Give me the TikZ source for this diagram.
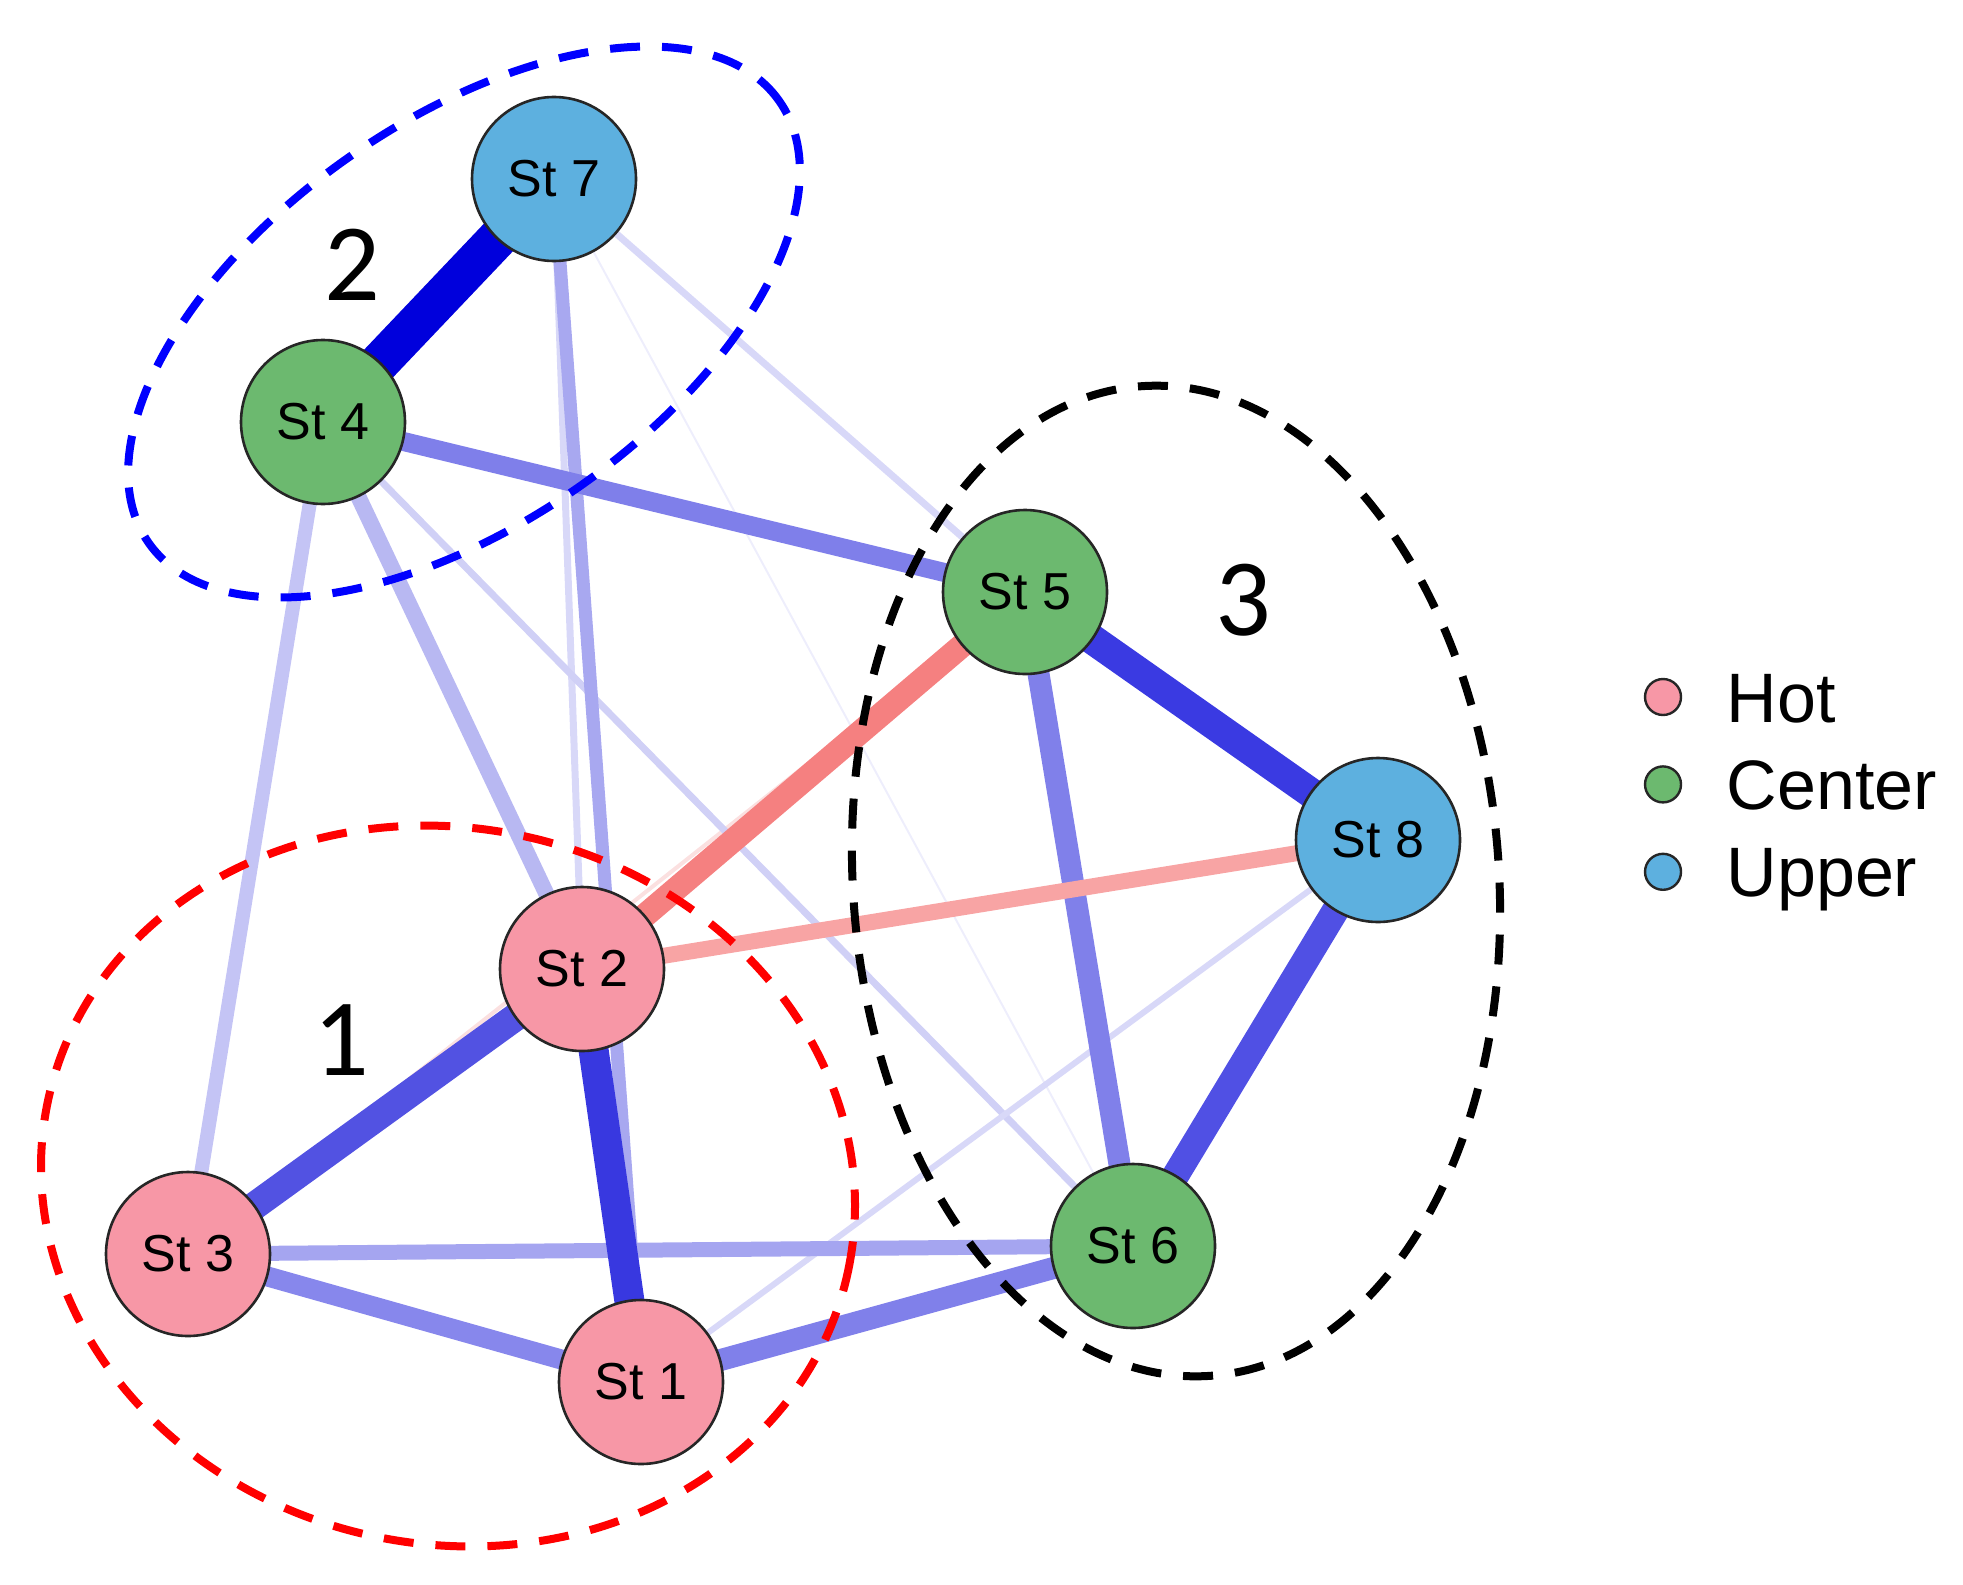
\documentclass[tikz,border=0pt]{standalone}
\usepackage{fontspec}
\setmainfont{Liberation Sans}
\newfontfamily\digitfont{Carlito}
\usetikzlibrary{positioning,backgrounds}

\definecolor{hotpink}{HTML}{F797A6}
\definecolor{centergreen}{HTML}{6CB96F}
\definecolor{upperblue}{HTML}{5DB0DF}

\begin{document}
\begin{tikzpicture}[x=0.5pt,y=-0.5pt,
  station/.style={circle,draw=black!85,line width=1.3pt,minimum size=82pt,inner sep=0pt,font=\fontsize{26}{26}\selectfont},
  hotst/.style={station,fill=hotpink},
  centerst/.style={station,fill=centergreen},
  upperst/.style={station,fill=upperblue},
  link/.style={line width=#1},
  group/.style={line width=4pt,dash pattern=on 15pt off 11pt},
  grouplabel/.style={font=\digitfont\fontsize{55}{55}\selectfont,inner sep=0pt},
  keydot/.style={circle,draw=black!85,line width=1.2pt,minimum size=18pt,inner sep=0pt},
  keytext/.style={font=\fontsize{35}{35}\selectfont,inner sep=0pt,text height=25pt,text depth=0pt,anchor=west}]

\useasboundingbox (0,0) rectangle (1963,1584);

\node[hotst] (st1) at (641,1382) {St 1};
\node[hotst] (st2) at (582,969) {St 2};
\node[hotst] (st3) at (188,1254) {St 3};
\node[centerst] (st4) at (323,422) {St 4};
\node[centerst] (st5) at (1025,592) {St 5};
\node[centerst] (st6) at (1133,1246) {St 6};
\node[upperst] (st7) at (554,179) {St 7};
\node[upperst] (st8) at (1378,840) {St 8};

\begin{pgfonlayer}{background}
\draw[link=2pt,color={rgb,255:red,251;green,224;blue,224}] (st3.center) -- (st5.center);
\draw[link=1pt,color={rgb,255:red,238;green,238;blue,252}] (st7.center) -- (st6.center);
\draw[link=3.5pt,color={rgb,255:red,216;green,216;blue,248}] (st7.center) -- (st5.center);
\draw[link=3.5pt,color={rgb,255:red,216;green,216;blue,248}] (st7.center) -- (st2.center);
\draw[link=3.5pt,color={rgb,255:red,208;green,208;blue,246}] (st4.center) -- (st6.center);
\draw[link=3pt,color={rgb,255:red,216;green,216;blue,248}] (st1.center) -- (st8.center);
\draw[link=7pt,color={rgb,255:red,196;green,196;blue,245}] (st4.center) -- (st3.center);
\draw[link=8pt,color={rgb,255:red,184;green,184;blue,242}] (st4.center) -- (st2.center);
\draw[link=6.5pt,color={rgb,255:red,168;green,168;blue,240}] (st7.center) -- (st1.center);
\draw[link=7.5pt,color={rgb,255:red,165;green,165;blue,240}] (st3.center) -- (st6.center);
\draw[link=10pt,color={rgb,255:red,135;green,135;blue,236}] (st3.center) -- (st1.center);
\draw[link=11pt,color={rgb,255:red,128;green,128;blue,234}] (st1.center) -- (st6.center);
\draw[link=11pt,color={rgb,255:red,128;green,128;blue,234}] (st5.center) -- (st6.center);
\draw[link=9.5pt,color={rgb,255:red,127;green,127;blue,234}] (st4.center) -- (st5.center);
\draw[link=8pt,color={rgb,255:red,248;green,164;blue,164}] (st2.center) -- (st8.center);
\draw[link=12pt,color={rgb,255:red,245;green,128;blue,128}] (st2.center) -- (st5.center);
\draw[link=14pt,color={rgb,255:red,82;green,82;blue,226}] (st2.center) -- (st3.center);
\draw[link=13.5pt,color={rgb,255:red,80;green,80;blue,228}] (st8.center) -- (st6.center);
\draw[link=15pt,color={rgb,255:red,56;green,56;blue,224}] (st2.center) -- (st1.center);
\draw[link=15pt,color={rgb,255:red,58;green,58;blue,226}] (st5.center) -- (st8.center);
\draw[link=20pt,color={rgb,255:red,0;green,0;blue,220}] (st4.center) -- (st7.center);
\end{pgfonlayer}

% groups
\draw[group,blue] [rotate around={35:(464,322)}] (464,322) ellipse [x radius=192.5pt,y radius=100.5pt];
\draw[group,red] [rotate around={-12:(448,1186)}] (448,1186) ellipse [x radius=204.5pt,y radius=179pt];
\draw[group,black] [rotate around={4:(1176,881)}] (1176,881) ellipse [x radius=161.5pt,y radius=248pt];

\node[grouplabel] (g1) at (341,1040) {1};
\node[grouplabel] (g2) at (352,265) {2};
\node[grouplabel] (g3) at (1243,600) {3};

% legend
\node[keydot,fill=hotpink] (khot) at (1663,697) {};
\node[keydot,fill=centergreen,below=24.5pt of khot] (kcenter) {};
\node[keydot,fill=upperblue,below=24.5pt of kcenter] (kupper) {};
\node[keytext,right=22pt of khot] (lhot) {Hot};
\node[keytext,right=22pt of kcenter] (lcenter) {Center};
\node[keytext,right=22pt of kupper] (lupper) {Upper};

\end{tikzpicture}
\end{document}
